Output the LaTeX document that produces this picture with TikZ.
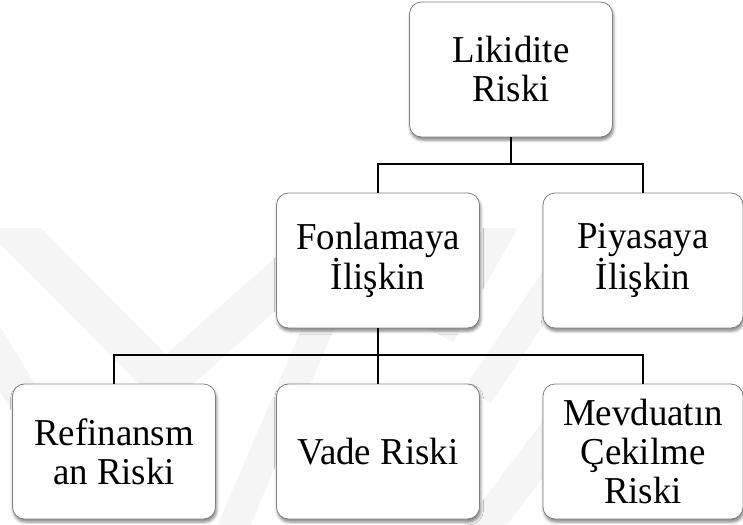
\documentclass[tikz,border=0pt]{standalone}
\usepackage{fontspec}
\setmainfont{Liberation Serif}[FakeStretch=0.97]
\usetikzlibrary{shadows.blur}
\begin{document}
\begin{tikzpicture}[x=1pt,y=-1pt,
  box/.style={draw=black!50, line width=0.8pt, fill=white, rounded corners=12pt,
    minimum width=203pt, minimum height=135pt, align=center, inner sep=0pt,
    font=\fontsize{38}{39}\selectfont,
    blur shadow={shadow xshift=1pt, shadow yshift=-3pt, shadow blur radius=3pt, shadow opacity=50}},
  narrowbox/.style={box, minimum width=200pt},
  conn/.style={line width=2pt, black},
  wm/.style={line width=40pt, black!4, line join=miter}]
\useasboundingbox (0,0) rectangle (743,524);
% faint background watermark
\begin{scope}
  \clip (0,228) rectangle (743,524);
  \draw[wm] (0,215) -- (165,382) -- (305,258);
  \draw[wm, line width=34pt] (-25,318) -- (40,425);
  \draw[wm, line width=30pt] (232,530) -- (330,300);
  \draw[wm, line width=30pt] (440,335) -- (505,220);
  \draw[wm, line width=30pt] (478,395) -- (565,265);
  \draw[wm, line width=34pt] (478,535) -- (565,420);
\end{scope}
% nodes
\node[box] (lik) at (511,69.5) {Likidite\\Riski};
\node[box] (fon) at (378,260.5) {Fonlamaya\\İlişkin};
\node[narrowbox] (piy) at (643,260.5) {Piyasaya\\İlişkin};
\node[box] (refi) at (114,451.5) {Refinansm\\an Riski};
\node[box] (vade) at (378,451.5) {Vade Riski};
\node[narrowbox] (mev) at (643,451.5) {Mevduatın\\Çekilme\\Riski};
% connectors
\coordinate (busA) at (0,164);
\coordinate (busB) at (0,355);
\draw[conn] (lik.south) -- (lik.south |- busA) -| (fon.north);
\draw[conn] (lik.south |- busA) -| (piy.north);
\draw[conn] (fon.south) -- (fon.south |- busB) -| (refi.north);
\draw[conn] (fon.south |- busB) -- (vade.north);
\draw[conn] (fon.south |- busB) -| (mev.north);
\end{tikzpicture}
\end{document}
